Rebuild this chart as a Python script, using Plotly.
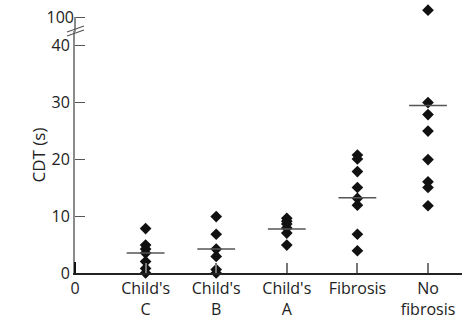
import plotly.graph_objects as go

categories = ["Child's<br>C", "Child's<br>B", "Child's<br>A", "Fibrosis", "No<br>fibrosis"]
child_c = [7.8, 4.9, 4.2, 3.5, 2.0, 0.8, 0.0]
child_b = [9.9, 6.8, 4.2, 2.9, 0.6, 0.0]
child_a = [9.6, 9.1, 8.6, 7.9, 7.0, 4.9]
fibrosis = [20.7, 20.0, 17.8, 15.0, 13.1, 11.9, 6.8, 3.9]
no_fibrosis = [101.2, 29.9, 27.8, 24.9, 19.9, 16.0, 15.0, 11.8]
medians = [3.5, 4.2, 7.7, 13.2, 29.4]
y_ticks_low = [0, 10, 20, 30, 40]
y_ticks_high = [100]

groups = [child_c, child_b, child_a, fibrosis, no_fibrosis]
BREAK = 42.5

FONT = "Open Sans"
TXT = "#222222"
AX = "#8a8a8a"
S = 5.7  # px per unit

fig = go.Figure()
lx, ly, hx, hy = [], [], [], []
for i, vals in enumerate(groups, start=1):
    for v in vals:
        if v <= BREAK:
            lx.append(i); ly.append(v)
        else:
            hx.append(i); hy.append(v)

mk = dict(symbol="diamond", size=9, color="#111111", line=dict(width=0))
fig.add_trace(go.Scatter(x=lx, y=ly, mode="markers", marker=mk, cliponaxis=False,
                         showlegend=False, xaxis="x", yaxis="y"))
fig.add_trace(go.Scatter(x=hx, y=hy, mode="markers", marker=mk, cliponaxis=False,
                         showlegend=False, xaxis="x", yaxis="y2"))
fig.add_trace(go.Scatter(x=list(range(1, 6)), y=medians, mode="markers",
                         marker=dict(symbol="line-ew-open", size=27, color="#555555",
                                     line=dict(width=1.5, color="#555555")),
                         cliponaxis=False, showlegend=False, xaxis="x", yaxis="y"))

# plot area: left 75px, top 3px, bottom 273px
W, H = 462, 320
L, T, B, R = 75, 3, 47, 0
ph = H - T - B
pw = W - L - R
low_top_px = 273 - BREAK * S
d1 = (273 - low_top_px) / ph
hi_lo = 100 - (low_top_px - 17) / S
hi_hi = 100 + (17 - T) / S

fig.update_layout(
    width=W, height=H,
    margin=dict(l=L, r=R, t=T, b=B),
    plot_bgcolor="white", paper_bgcolor="white",
    font=dict(family=FONT, size=16, color=TXT),
    xaxis=dict(range=[0, pw / 70.6], tickvals=[0, 1, 2, 3, 4, 5],
               ticktext=["0"] + categories, ticks="inside", ticklen=10,
               tickcolor="#777777", tickwidth=1.5, showline=True, linecolor="#222222",
               linewidth=1.5, showgrid=False, zeroline=False, anchor="y",
               automargin=False),
    yaxis=dict(domain=[0, d1], range=[0, BREAK], tickvals=y_ticks_low,
               ticks="inside", ticklen=10, tickcolor="#555555", tickwidth=1,
               showline=True, linecolor=AX, linewidth=2, showgrid=False,
               zeroline=False, anchor="x", automargin=False),
    yaxis2=dict(domain=[d1, 1], range=[hi_lo, hi_hi],
                tickvals=y_ticks_high, ticks="inside", ticklen=10,
                tickcolor="#555555", tickwidth=1, showline=False,
                showgrid=False, zeroline=False, anchor="x", automargin=False),
)

def px2paper(x, y):
    return (x - L) / pw, (H - B - y) / ph

# upper axis segment (from break up to the 100 tick)
a = px2paper(75, low_top_px + 1); b = px2paper(75, 17)
fig.add_shape(type="line", xref="paper", yref="paper", x0=a[0], y0=a[1],
              x1=b[0], y1=b[1], line=dict(color=AX, width=2))
# darker foot of the y axis
a = px2paper(75, 262); b = px2paper(75, 273)
fig.add_shape(type="line", xref="paper", yref="paper", x0=a[0], y0=a[1],
              x1=b[0], y1=b[1], line=dict(color="#111111", width=2))

for (x0, y0, x1, y1) in [(67, 32, 84, 26), (67, 36, 84, 30)]:
    a = px2paper(x0, y0); b = px2paper(x1, y1)
    fig.add_shape(type="line", xref="paper", yref="paper", x0=a[0], y0=a[1],
                  x1=b[0], y1=b[1], line=dict(color="#555555", width=1.2))

fig.add_annotation(text="CDT (s)", xref="paper", yref="paper",
                   x=px2paper(25, 155)[0], y=px2paper(25, 155)[1],
                   textangle=-90, showarrow=False, font=dict(size=17, color=TXT))

fig.write_html("out.html", config={"displayModeBar": False},
               post_script="document.body.style.margin='0';document.body.style.overflow='hidden';")
